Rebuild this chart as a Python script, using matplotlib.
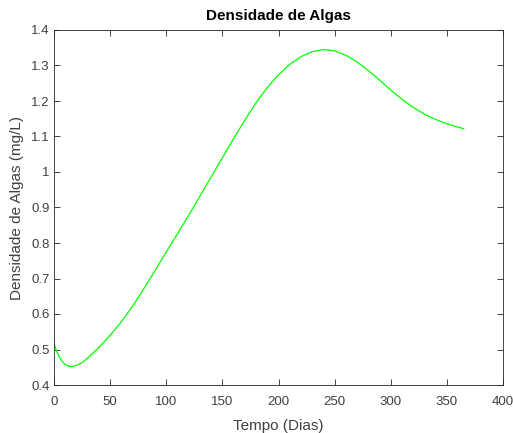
import matplotlib
matplotlib.use("Agg")
import matplotlib.pyplot as plt

days = [0, 2, 4, 6, 8, 10, 13, 16, 20, 25, 30, 40, 50, 60, 70, 80, 90, 100, 110,
        120, 130, 140, 150, 160, 170, 180, 190, 200, 210, 220, 230, 240, 250, 260,
        270, 280, 290, 300, 310, 320, 330, 340, 350, 358, 365]
density = [0.518, 0.498, 0.483, 0.472, 0.464, 0.458, 0.453, 0.452, 0.455, 0.463,
           0.476, 0.506, 0.54, 0.578, 0.622, 0.671, 0.722, 0.775, 0.826, 0.878,
           0.932, 0.986, 1.04, 1.094, 1.146, 1.195, 1.238, 1.274, 1.303, 1.325,
           1.339, 1.345, 1.341, 1.329, 1.31, 1.286, 1.259, 1.231, 1.205, 1.182,
           1.163, 1.148, 1.136, 1.128, 1.122]
xticks = [0, 50, 100, 150, 200, 250, 300, 350, 400]
yticks = [0.4, 0.5, 0.6, 0.7, 0.8, 0.9, 1.0, 1.1, 1.2, 1.3, 1.4]
ytick_labels = ["0.4", "0.5", "0.6", "0.7", "0.8", "0.9", "1", "1.1", "1.2", "1.3", "1.4"]

plt.rcParams['font.family'] = ['Liberation Sans', 'DejaVu Sans']

fig = plt.figure(figsize=(5.13, 4.33), dpi=100)
ax = fig.add_axes([54/513, 1-385/433, (503-54)/513, (385-30)/433])
ax.plot(days, density, color=(0, 1, 0), lw=0.9)
ax.set_xlim(0, 400)
ax.set_ylim(0.4, 1.4)
ax.set_xticks(xticks)
ax.set_yticks(yticks)
ax.set_yticklabels(ytick_labels)
gray = '#262626'
ax.tick_params(direction='in', length=4, width=0.6, top=True, right=True,
               labelsize=9.5, colors=gray, labelcolor='#404040', pad=3)
ax.tick_params(axis='x', pad=8)
for s in ax.spines.values():
    s.set_color(gray)
    s.set_linewidth(0.6)
ax.set_xlabel('Tempo (Dias)', fontsize=11, color='#404040', labelpad=8)
ax.set_ylabel('Densidade de Algas (mg/L)', fontsize=11, color='#404040', labelpad=5)
ax.set_title('Densidade de Algas', fontsize=11, fontweight='bold', color='black', pad=7)
fig.savefig('out.png', dpi=100)
